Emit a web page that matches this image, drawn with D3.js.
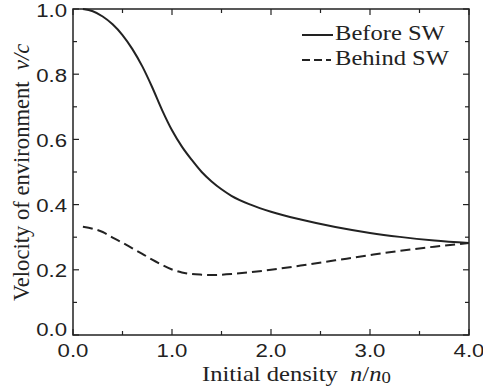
<!DOCTYPE html>
<html>
<head>
<meta charset="utf-8">
<script src="https://cdn.jsdelivr.net/npm/d3@7"></script>
<style>
  body { margin: 0; background: #fff; }
  svg { display: block; }
</style>
</head>
<body>
<svg id="chart" width="483" height="387"></svg>
<script>
var density = [0.1, 0.2, 0.3, 0.4, 0.5, 0.6, 0.7, 0.8, 0.9, 1.0, 1.1, 1.2, 1.3, 1.4, 1.5, 1.6, 1.8, 2.0, 2.3, 2.65, 3.0, 3.3, 3.65, 4.0];
var beforeSW = [1.000, 0.993, 0.977, 0.953, 0.920, 0.877, 0.824, 0.760, 0.690, 0.628, 0.578, 0.537, 0.500, 0.471, 0.447, 0.427, 0.399, 0.378, 0.354, 0.331, 0.313, 0.301, 0.290, 0.282];
var behindSW = [0.332, 0.326, 0.316, 0.299, 0.283, 0.266, 0.249, 0.231, 0.215, 0.201, 0.192, 0.187, 0.185, 0.184, 0.185, 0.187, 0.193, 0.200, 0.213, 0.229, 0.245, 0.258, 0.271, 0.282];
var xTicks = [0, 1, 2, 3, 4];
var yTicks = [0, 0.2, 0.4, 0.6, 0.8, 1.0];
var legendLabels = ["Before SW", "Behind SW"];

var svg = d3.select("#chart");
var pLeft = 73, pRight = 469, pTop = 9, pBottom = 335;

var x = d3.scaleLinear().domain([0, 4]).range([pLeft, pRight]);
var y = d3.scaleLinear().domain([0, 1]).range([pBottom, pTop]);

var ink = "#222";
var sans = "Liberation Sans, Arial, sans-serif";
var serif = "Liberation Serif, Times New Roman, serif";
var stretch = 1.17;   // the original glyphs are a little wide

// frame
svg.append("rect")
  .attr("x", pLeft).attr("y", pTop)
  .attr("width", pRight - pLeft).attr("height", pBottom - pTop)
  .attr("fill", "none").attr("stroke", ink).attr("stroke-width", 1.5);

// inward ticks on all four sides
var xMinor = d3.range(0, 4.01, 0.5), yMinor = d3.range(0, 1.001, 0.1);
function tickLen(v, step) { return Math.abs(v / step - Math.round(v / step)) < 1e-6 ? 6 : 4; }
xMinor.forEach(function(v) {
  var L = tickLen(v, 1);
  svg.append("line").attr("x1", x(v)).attr("x2", x(v)).attr("y1", pBottom).attr("y2", pBottom - L).attr("stroke", ink).attr("stroke-width", 1.2);
  svg.append("line").attr("x1", x(v)).attr("x2", x(v)).attr("y1", pTop).attr("y2", pTop + L).attr("stroke", ink).attr("stroke-width", 1.2);
});
yMinor.forEach(function(v) {
  var L = tickLen(v, 0.2);
  svg.append("line").attr("y1", y(v)).attr("y2", y(v)).attr("x1", pLeft).attr("x2", pLeft + L).attr("stroke", ink).attr("stroke-width", 1.2);
  svg.append("line").attr("y1", y(v)).attr("y2", y(v)).attr("x1", pRight).attr("x2", pRight - L).attr("stroke", ink).attr("stroke-width", 1.2);
});

// tick labels
svg.selectAll("text.xt").data(xTicks).enter().append("text")
  .attr("class", "xt")
  .attr("transform", function(d) { return "translate(" + x(d) + ",357) scale(" + stretch + ",1)"; })
  .attr("text-anchor", "middle")
  .style("font-family", sans)
  .style("font-size", "19px")
  .attr("fill", ink)
  .text(function(d) { return d3.format(".1f")(d); });

svg.selectAll("text.yt").data(yTicks).enter().append("text")
  .attr("class", "yt")
  .attr("transform", function(d) { return "translate(67," + (y(d) + 7.5 - (d === 0 ? 7 : 0)) + ") scale(" + stretch + ",1)"; })
  .attr("text-anchor", "end")
  .style("font-family", sans)
  .style("font-size", "19px")
  .attr("fill", ink)
  .text(function(d) { return d3.format(".1f")(d); });

// axis titles
var xt = svg.append("text")
  .attr("transform", "translate(202,381) scale(" + stretch + ",1)")
  .style("font-family", serif).style("font-size", "21px").attr("fill", ink);
xt.append("tspan").text("Initial density\u00a0 ");
xt.append("tspan").style("font-style", "italic").text("n");
xt.append("tspan").text("/");
xt.append("tspan").style("font-style", "italic").text("n");
xt.append("tspan").attr("dy", 2).style("font-size", "16px").text("0");

var yt = svg.append("text")
  .attr("transform", "translate(29,301) rotate(-90)")
  .style("font-family", serif).style("font-size", "22.6px").attr("fill", ink);
yt.append("tspan").text("Velocity of environment\u00a0\u00a0");
yt.append("tspan").style("font-style", "italic").text("v/c");

// curves
var line = d3.line()
  .x(function(d) { return x(d[0]); })
  .y(function(d) { return y(d[1]); })
  .curve(d3.curveMonotoneX);

svg.append("path")
  .datum(d3.zip(density, beforeSW))
  .attr("d", line)
  .attr("fill", "none").attr("stroke", ink).attr("stroke-width", 2);

svg.append("path")
  .datum(d3.zip(density, behindSW))
  .attr("d", line)
  .attr("fill", "none").attr("stroke", ink).attr("stroke-width", 2)
  .attr("stroke-dasharray", "10,5");

// legend
var legend = svg.append("g");
legendLabels.forEach(function(lab, i) {
  var ly = 35 + i * 25;
  legend.append("line")
    .attr("x1", 302).attr("x2", i === 0 ? 333 : 331).attr("y1", ly).attr("y2", ly)
    .attr("stroke", ink).attr("stroke-width", 2)
    .attr("stroke-dasharray", i === 0 ? null : "8,4");
  legend.append("text")
    .attr("transform", "translate(335," + (ly + 4.5) + ") scale(" + stretch + ",1)")
    .style("font-family", serif).style("font-size", "21px").attr("fill", ink)
    .text(lab);
});
</script>
</body>
</html>
